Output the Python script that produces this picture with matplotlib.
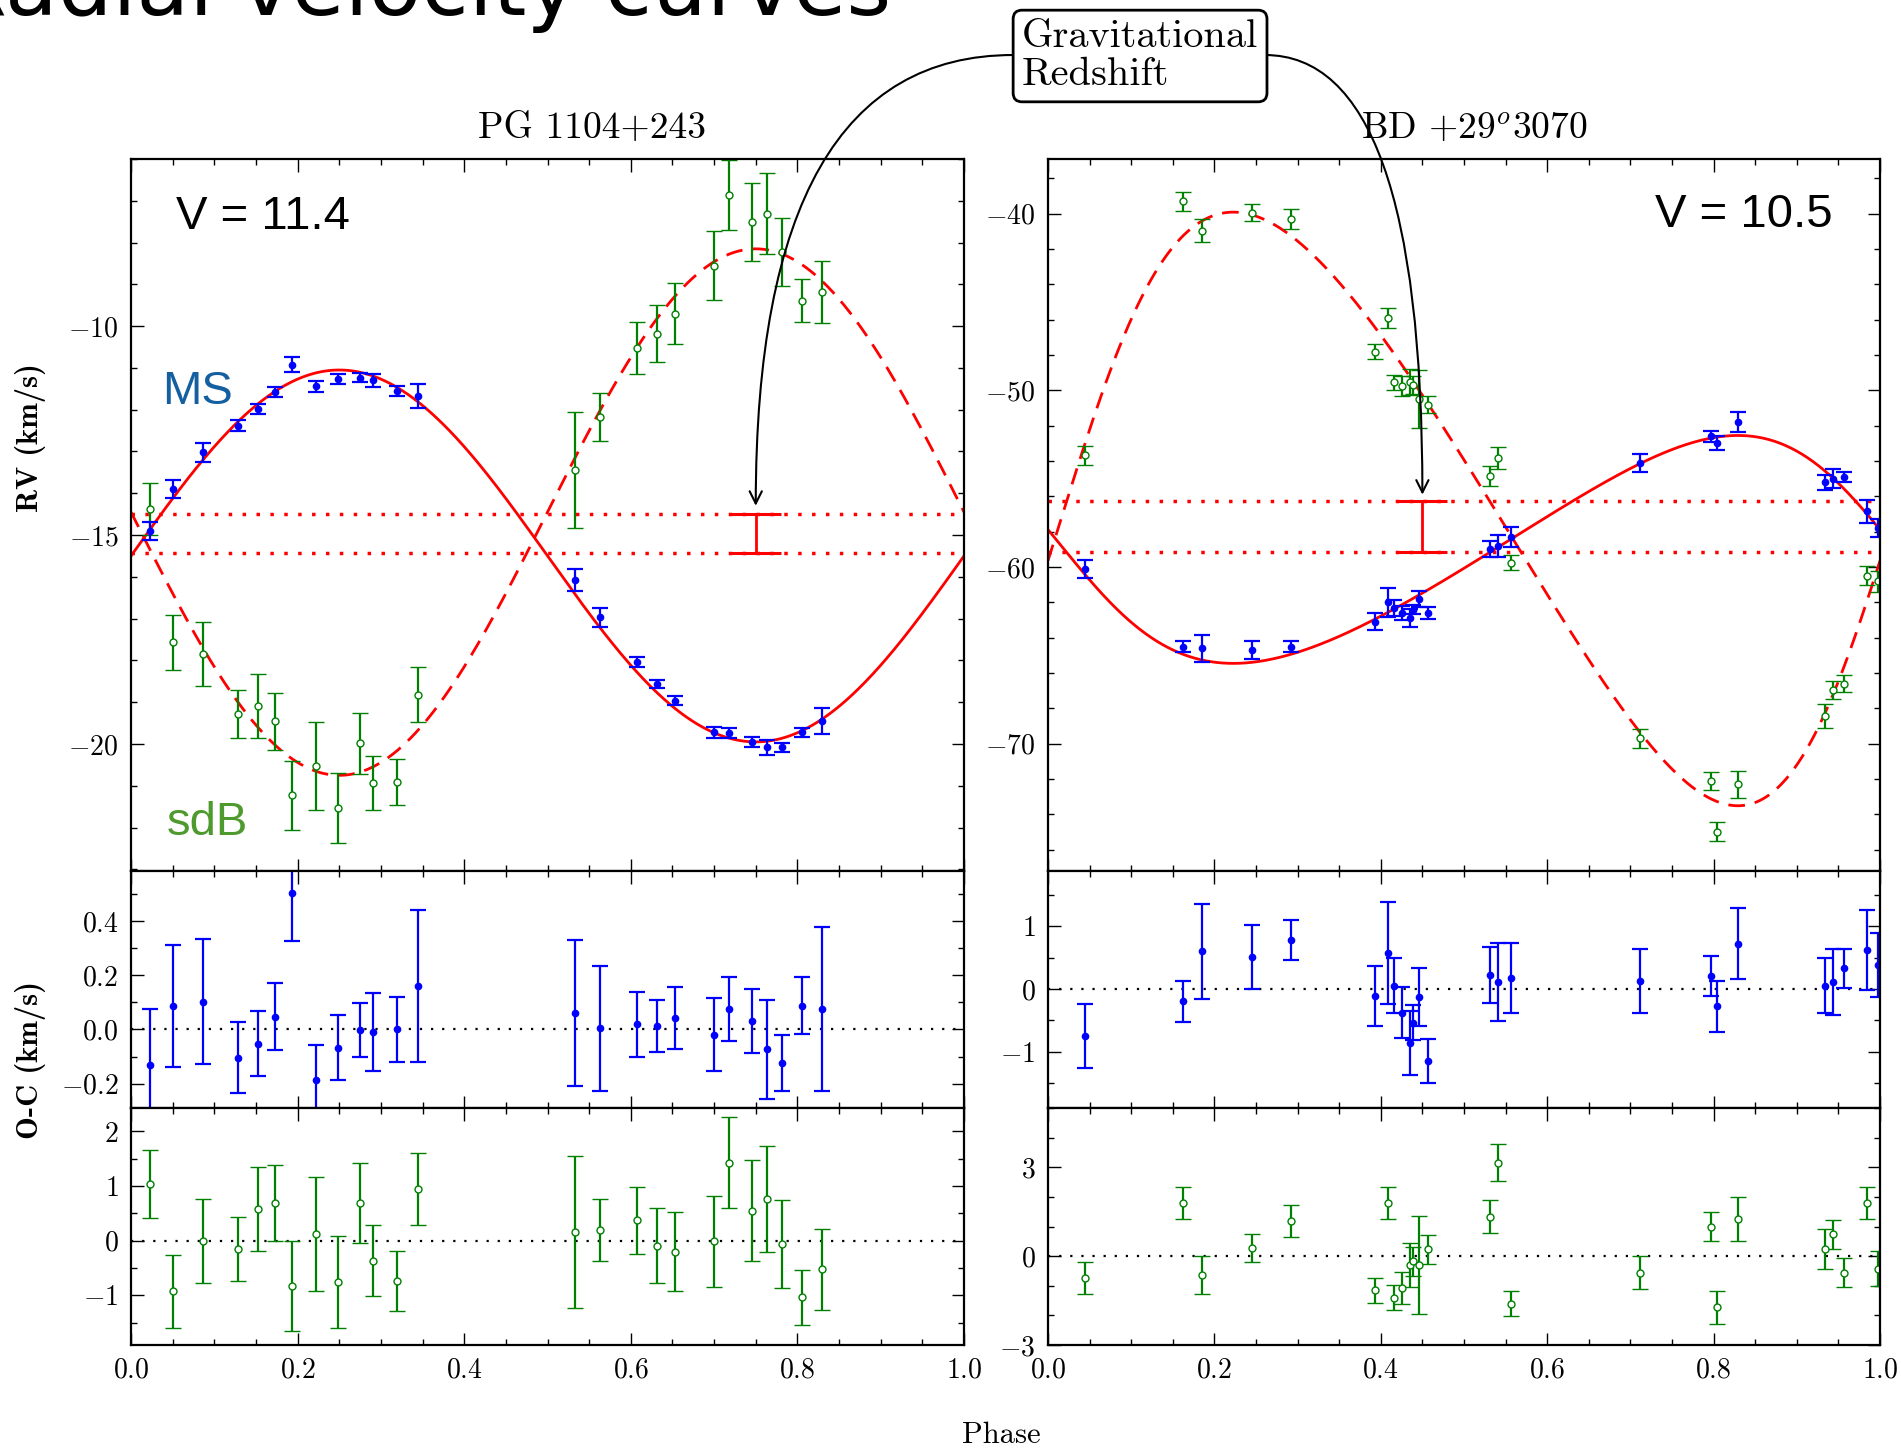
import numpy as np
import matplotlib
matplotlib.use("Agg")
import matplotlib.pyplot as plt
from matplotlib.ticker import MultipleLocator

plt.rcParams['font.family'] = 'serif'
plt.rcParams['font.serif'] = ['cmr10']
plt.rcParams['mathtext.fontset'] = 'cm'
plt.rcParams['axes.formatter.use_mathtext'] = True

# ---- PG 1104+243 (left) ----
ph_pg = [0.023, 0.050, 0.086, 0.128, 0.152, 0.173, 0.193, 0.222, 0.249, 0.275, 0.291, 0.319, 0.344,
         0.533, 0.563, 0.607, 0.632, 0.653, 0.700, 0.718, 0.746, 0.764, 0.782, 0.806, 0.829]
rv_ms_pg = [-14.90, -13.90, -13.02, -12.38, -11.99, -11.58, -10.92, -11.44, -11.26, -11.23, -11.30, -11.55, -11.67,
            -16.08, -16.97, -18.03, -18.57, -18.96, -19.72, -19.74, -19.96, -20.08, -20.08, -19.72, -19.45]
err_ms_pg = [0.21, 0.225, 0.23, 0.13, 0.12, 0.124, 0.18, 0.13, 0.12, 0.10, 0.145, 0.12, 0.28,
             0.27, 0.23, 0.12, 0.095, 0.115, 0.134, 0.118, 0.118, 0.181, 0.103, 0.104, 0.303]
oc_ms_pg = [-0.133, 0.088, 0.103, -0.104, -0.052, 0.047, 0.505, -0.188, -0.068, -0.002, -0.009, 0.001, 0.161,
            0.062, 0.004, 0.019, 0.012, 0.041, -0.019, 0.074, 0.032, -0.074, -0.124, 0.088, 0.076]
rv_sdb_pg = [-14.38, -17.57, -17.85, -19.28, -19.09, -19.46, -21.23, -20.52, -21.54, -19.98, -20.94, -20.90, -18.82,
             -13.44, -12.18, -10.53, -10.18, -9.70, -8.55, -6.86, -7.51, -7.31, -8.23, -9.39, -9.19]
err_sdb_pg = [0.62, 0.66, 0.77, 0.58, 0.77, 0.69, 0.83, 1.05, 0.84, 0.73, 0.65, 0.55, 0.66,
              1.39, 0.57, 0.62, 0.69, 0.73, 0.83, 0.84, 0.93, 0.97, 0.81, 0.51, 0.74]
oc_sdb_pg = [1.04, -0.93, 0.0, -0.15, 0.58, 0.69, -0.83, 0.12, -0.76, 0.69, -0.37, -0.73, 0.94,
             0.16, 0.20, 0.37, -0.09, -0.20, -0.01, 1.43, 0.55, 0.77, -0.06, -1.04, -0.52]
# circular orbit fit
gam_ms_pg, k_ms_pg = -15.50, 4.45
gam_sdb_pg, k_sdb_pg = -14.45, 6.30
gam_lines_pg = [-14.50, -15.44]

# ---- BD +29 3070 (right) ----
ph_bd = [0.045, 0.162, 0.185, 0.245, 0.292, 0.393, 0.409, 0.416, 0.425, 0.435, 0.439, 0.446, 0.457,
         0.531, 0.541, 0.556, 0.712, 0.797, 0.804, 0.829, 0.934, 0.943, 0.957, 0.984, 0.998]
rv_ms_bd = [-60.1, -64.5, -64.6, -64.7, -64.5, -63.1, -62.0, -62.3, -62.6, -62.9, -62.4, -61.8, -62.6,
            -58.97, -58.8, -58.3, -54.1, -52.6, -52.98, -51.8, -55.2, -55.0, -54.9, -56.85, -57.8]
err_ms_bd = [0.51, 0.33, 0.76, 0.51, 0.32, 0.48, 0.81, 0.44, 0.41, 0.51, 0.28, 0.46, 0.35,
             0.44, 0.62, 0.56, 0.51, 0.32, 0.40, 0.57, 0.44, 0.53, 0.31, 0.64, 0.51]
oc_ms_bd = [-0.75, -0.20, 0.60, 0.51, 0.78, -0.11, 0.57, 0.05, -0.38, -0.86, -0.54, -0.13, -1.15,
            0.22, 0.11, 0.17, 0.13, 0.20, -0.28, 0.72, 0.05, 0.11, 0.33, 0.62, 0.38]
rv_sdb_bd = [-53.68, -39.3, -40.95, -39.95, -40.3, -47.8, -45.9, -49.55, -49.75, -49.5, -49.7, -50.5, -50.8,
             -54.84, -53.8, -59.74, -69.7, -72.1, -74.97, -72.3, -68.4, -66.96, -66.6, -60.5, -60.8]
err_sdb_bd = [0.54, 0.54, 0.64, 0.48, 0.55, 0.42, 0.54, 0.42, 0.54, 0.73, 0.49, 1.65, 0.48,
              0.56, 0.62, 0.42, 0.56, 0.49, 0.55, 0.75, 0.68, 0.49, 0.48, 0.54, 0.60]
oc_sdb_bd = [-0.75, 1.78, -0.64, 0.28, 1.19, -1.15, 1.78, -1.40, -1.09, -0.30, -0.17, -0.30, 0.23,
             1.33, 3.15, -1.60, -0.56, 0.99, -1.73, 1.25, 0.23, 0.73, -0.56, 1.78, -0.42]
# eccentric orbit fit
ecc, omega, ph_peri = 0.17, np.radians(81.0), 0.002
gam_ms_bd, k_ms_bd = -59.17, 6.45
gam_sdb_bd, k_sdb_bd = -56.26, 16.8
gam_lines_bd = [-56.26, -59.17]

W, H = 1901, 1451
fig = plt.figure(figsize=(W / 100, H / 100), dpi=100)


def add_ax(x0, x1, y0, y1):
    return fig.add_axes([x0 / W, 1 - y1 / H, (x1 - x0) / W, (y1 - y0) / H])


def style(ax, major, minor, ylim, xlabels):
    ax.set_xlim(0, 1)
    ax.set_ylim(*ylim)
    ax.xaxis.set_major_locator(MultipleLocator(0.2))
    ax.xaxis.set_minor_locator(MultipleLocator(0.05))
    ax.yaxis.set_major_locator(MultipleLocator(major))
    ax.yaxis.set_minor_locator(MultipleLocator(minor))
    ax.tick_params(which='both', direction='in', top=True, right=True, labelsize=20, pad=9)
    ax.tick_params(which='major', length=9, width=1)
    ax.tick_params(which='minor', length=4.5, width=1)
    ax.tick_params(axis='x', labelbottom=xlabels)
    for s in ax.spines.values():
        s.set_linewidth(1.6)


def kepler_rv(ph, gam, k, e, w, ph0):
    M = 2 * np.pi * (ph - ph0)
    E = M.copy()
    for _ in range(60):
        E = M + e * np.sin(E)
    nu = 2 * np.arctan2(np.sqrt(1 + e) * np.sin(E / 2), np.sqrt(1 - e) * np.cos(E / 2))
    return gam + k * (np.cos(nu + w) + e * np.cos(w))


ms_kw = dict(fmt='o', color='b', ms=4.5, elinewidth=1.6, capsize=5.5, capthick=1.6)
sdb_kw = dict(fmt='o', color='g', ms=5, mfc='white', mec='g', mew=1.0,
              elinewidth=1.6, capsize=5.5, capthick=1.6)
phase = np.linspace(0, 1, 600)

xl = (131, 964)
xr = (1048, 1880)
rows = [(159, 871), (871, 1108), (1108, 1345)]

# ---- left column ----
ax1 = add_ax(*xl, *rows[0])
ax1.plot(phase, gam_ms_pg + k_ms_pg * np.sin(2 * np.pi * phase), color='r', lw=2)
ax1.plot(phase, gam_sdb_pg - k_sdb_pg * np.sin(2 * np.pi * phase), color='r', lw=2, ls=(0, (6, 3.6)))
for g in gam_lines_pg:
    ax1.axhline(g, color='r', lw=2.5, ls=(0, (1, 3)))
ax1.errorbar([0.75], [np.mean(gam_lines_pg)], yerr=[abs(np.diff(gam_lines_pg)[0]) / 2],
             color='r', lw=2, capsize=18, capthick=2.2)
ax1.errorbar(ph_pg, rv_sdb_pg, yerr=err_sdb_pg, **sdb_kw)
ax1.errorbar(ph_pg, rv_ms_pg, yerr=err_ms_pg, **ms_kw)
style(ax1, 5, 1, (-23.04, -6.0), False)

ax2 = add_ax(*xl, *rows[1])
ax2.axhline(0, color='k', lw=1.6, ls=(0, (1, 4)))
ax2.errorbar(ph_pg, oc_ms_pg, yerr=err_ms_pg, **ms_kw)
style(ax2, 0.2, 0.1, (-0.29, 0.585), False)

ax3 = add_ax(*xl, *rows[2])
ax3.axhline(0, color='k', lw=1.6, ls=(0, (1, 4)))
ax3.errorbar(ph_pg, oc_sdb_pg, yerr=err_sdb_pg, **sdb_kw)
style(ax3, 1, 0.5, (-1.91, 2.43), True)

# ---- right column ----
ax4 = add_ax(*xr, *rows[0])
ax4.plot(phase, kepler_rv(phase, gam_ms_bd, k_ms_bd, ecc, omega, ph_peri), color='r', lw=2)
ax4.plot(phase, kepler_rv(phase, gam_sdb_bd, k_sdb_bd, ecc, omega + np.pi, ph_peri),
         color='r', lw=2, ls=(0, (6, 3.6)))
for g in gam_lines_bd:
    ax4.axhline(g, color='r', lw=2.5, ls=(0, (1, 3)))
ax4.errorbar([0.45], [np.mean(gam_lines_bd)], yerr=[abs(np.diff(gam_lines_bd)[0]) / 2],
             color='r', lw=2, capsize=18, capthick=2.2)
ax4.errorbar(ph_bd, rv_sdb_bd, yerr=err_sdb_bd, **sdb_kw)
ax4.errorbar(ph_bd, rv_ms_bd, yerr=err_ms_bd, **ms_kw)
style(ax4, 10, 2, (-77.2, -36.9), False)

ax5 = add_ax(*xr, *rows[1])
ax5.axhline(0, color='k', lw=1.6, ls=(0, (1, 4)))
ax5.errorbar(ph_bd, oc_ms_bd, yerr=err_ms_bd, **ms_kw)
style(ax5, 1, 0.5, (-1.9, 1.88), False)

ax6 = add_ax(*xr, *rows[2])
ax6.axhline(0, color='k', lw=1.6, ls=(0, (1, 4)))
ax6.errorbar(ph_bd, oc_sdb_bd, yerr=err_sdb_bd, **sdb_kw)
style(ax6, 3, 1, (-3, 5), True)

# ---- texts ----
fig.text(891 / W, 1 - 15 / H, 'Radial velocity curves', ha='right', va='baseline',
         fontsize=62, family='DejaVu Sans')
fig.text(592 / W, 1 - 138 / H, 'PG 1104+243', ha='center', va='baseline', fontsize=27)
fig.text(1474 / W, 1 - 138 / H, 'BD +29$^o$3070', ha='center', va='baseline', fontsize=27)
fig.text(30 / W, 1 - 438 / H, 'RV (km/s)', rotation=90, ha='center', va='center',
         fontsize=22, family='cmb10')
fig.text(30 / W, 1 - 1060 / H, 'O-C (km/s)', rotation=90, ha='center', va='center',
         fontsize=22, family='cmb10')
fig.text(1001 / W, 1 - 1443 / H, 'Phase', ha='center', va='baseline', fontsize=22)

fig.text(176 / W, 1 - 229 / H, 'V = 11.4', va='baseline', fontsize=34, family='Liberation Sans')
fig.text(1833 / W, 1 - 227 / H, 'V = 10.5', ha='right', va='baseline', fontsize=34,
         family='Liberation Sans')
fig.text(162 / W, 1 - 404 / H, 'MS', va='baseline', fontsize=34, family='Liberation Sans',
         color='#135fa0')
fig.text(167 / W, 1 - 835 / H, 'sdB', va='baseline', fontsize=34, family='Liberation Sans',
         color='#4e9a2e')

fig.text(1022 / W, 1 - 56 / H, 'Gravitational\nRedshift', ha='left', va='center', fontsize=29,
         linespacing=1.08, zorder=10,
         bbox=dict(boxstyle='round,pad=0.22', fc='white', ec='k', lw=2.0))

arrow = dict(arrowstyle='->', color='k', lw=1.5, shrinkA=0, shrinkB=0, mutation_scale=22,
             connectionstyle='angle3,angleA=0,angleB=90')
ax1.annotate('', xy=(0.75, -14.3), xycoords='data', xytext=(1013 / W, 1 - 55 / H),
             textcoords='figure fraction', arrowprops=arrow, annotation_clip=False)
ax4.annotate('', xy=(0.45, -55.9), xycoords='data', xytext=(1265 / W, 1 - 55 / H),
             textcoords='figure fraction', arrowprops=arrow, annotation_clip=False)

fig.savefig('out.png', dpi=100)
